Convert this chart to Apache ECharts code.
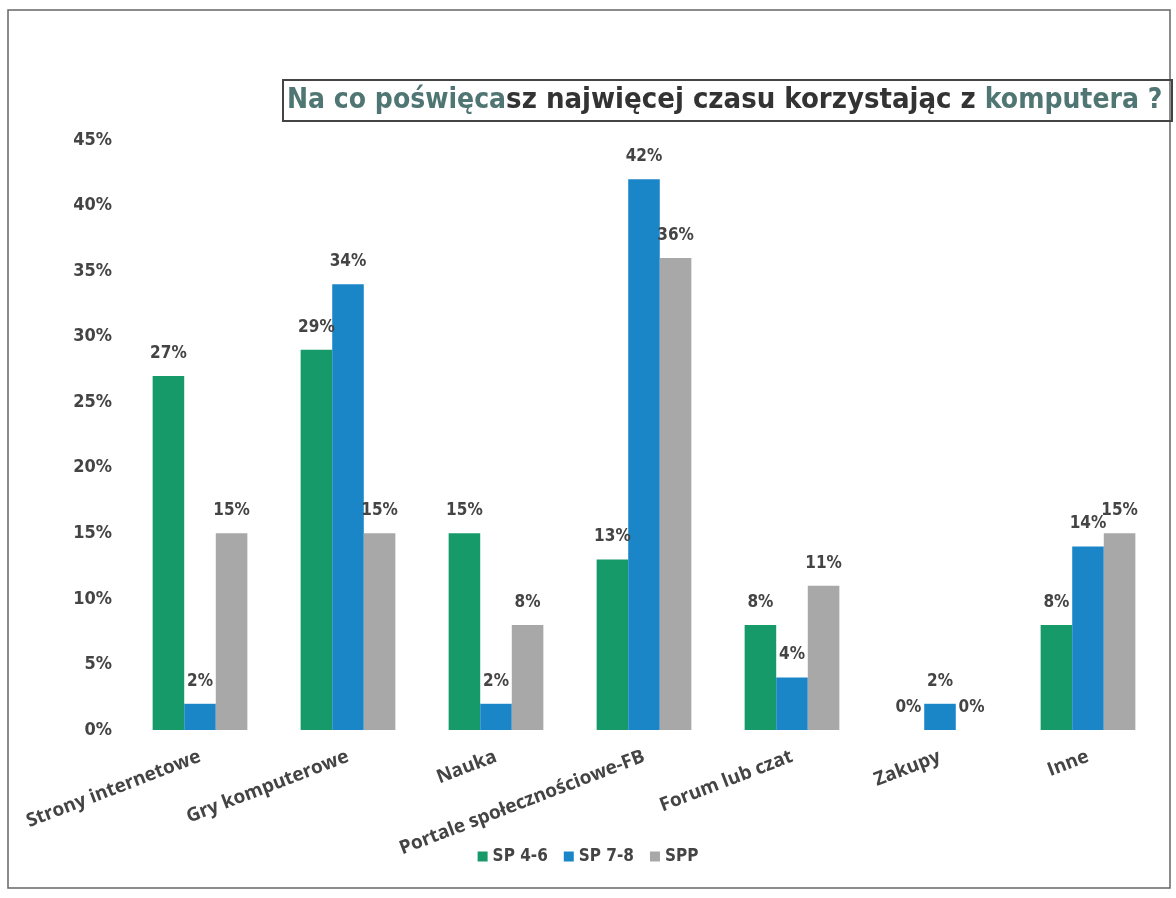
<!DOCTYPE html>
<html>
<head>
<meta charset="utf-8">
<script src="https://cdn.jsdelivr.net/npm/echarts@6/dist/echarts.min.js"></script>
<style>
  html, body { margin: 0; padding: 0; background: #fff; }
  #chart { width: 1176px; height: 898px; }
</style>
</head>
<body>
<div id="chart"></div>
<script>
// dane (procenty)
const categories = [
  'Strony internetowe',
  'Gry komputerowe',
  'Nauka',
  'Portale społecznościowe-FB',
  'Forum lub czat',
  'Zakupy',
  'Inne'
]
const seriesNames = ['SP 4-6', 'SP 7-8', 'SPP']
const sp46 = [27, 29, 15, 13, 8, 0, 8]
const sp78 = [2, 34, 2, 42, 4, 2, 14]
const spp = [15, 15, 8, 36, 11, 0, 15]
const yTicks = [0, 5, 10, 15, 20, 25, 30, 35, 40, 45]

const colors = ['#179a69', '#1a86c8', '#a8a8a8']
const textColor = '#444'
const narrow = 'Liberation Sans Narrow, DejaVu Sans Condensed, sans-serif'

const chart = echarts.init(document.getElementById('chart'))

const labelStyle = {
  show: true,
  position: 'top',
  distance: 14,
  color: textColor,
  fontFamily: narrow,
  fontWeight: 'bold',
  fontSize: 17,
  formatter: p => p.value + '%'
}

const option = {
  animation: false,
  backgroundColor: '#fff',
  color: colors,
  title: {
    left: 283,
    top: 80,
    padding: [6, 10, 6, 4],
    borderColor: '#444',
    borderWidth: 2,
    text: '{a|Na co poświęca}{b|sz najwięcej czasu korzystając z }{a|komputera ?}',
    textStyle: {
      rich: {
        a: { fontFamily: narrow, fontWeight: 'bold', fontSize: 28, color: '#4f7673' },
        b: { fontFamily: narrow, fontWeight: 'bold', fontSize: 29, color: '#333' }
      }
    }
  },
  legend: {
    bottom: 28,
    left: 'center',
    itemWidth: 10,
    itemHeight: 10,
    itemGap: 16,
    icon: 'rect',
    textStyle: {
      color: textColor,
      fontWeight: 'bold',
      fontSize: 17,
      fontFamily: narrow
    },
    data: seriesNames
  },
  grid: {
    left: 126,
    right: 14,
    top: 140,
    bottom: 168
  },
  xAxis: {
    type: 'category',
    data: categories,
    axisLine: { show: false },
    axisTick: { show: false },
    axisLabel: {
      rotate: 21,
      interval: 0,
      margin: 26,
      color: textColor,
      fontWeight: 'bold',
      fontSize: 19,
      fontFamily: 'Open Sans, sans-serif'
    }
  },
  yAxis: {
    type: 'value',
    min: yTicks[0],
    max: yTicks[yTicks.length - 1],
    interval: 5,
    splitLine: { show: false },
    axisLine: { show: false },
    axisTick: { show: false },
    axisLabel: {
      margin: 14,
      color: textColor,
      fontWeight: 'bold',
      fontSize: 18,
      fontFamily: narrow,
      formatter: v => v + '%'
    }
  },
  series: [
    { name: seriesNames[0], type: 'bar', data: sp46, barGap: '0%', barCategoryGap: '36%', label: labelStyle },
    { name: seriesNames[1], type: 'bar', data: sp78, barGap: '0%', barCategoryGap: '36%', label: labelStyle },
    { name: seriesNames[2], type: 'bar', data: spp, barGap: '0%', barCategoryGap: '36%', label: labelStyle }
  ],
  graphic: [
    {
      type: 'rect',
      shape: { x: 8, y: 10, width: 1162, height: 878 },
      style: { fill: 'none', stroke: '#666', lineWidth: 1.5 },
      silent: true
    }
  ]
}

chart.setOption(option)
</script>
</body>
</html>
